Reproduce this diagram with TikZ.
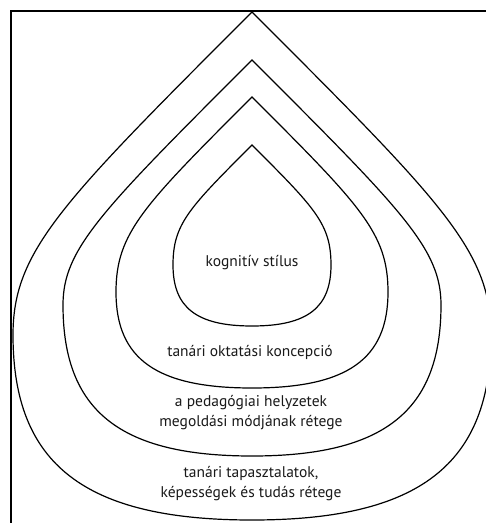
\documentclass[tikz,border=0pt]{standalone}
\usepackage{fontspec}
\setmainfont{PT Sans}
\newcommand\mydrop[4]{% apex y, half width, widest y, bottom y
  \pgfmathsetmacro\ay{#1}\pgfmathsetmacro\w{#2}%
  \pgfmathsetmacro\ly{#3}\pgfmathsetmacro\by{#4}%
  \pgfmathsetmacro\cxa{252-0.8*\w}\pgfmathsetmacro\cya{\ay+0.8*\w}%
  \pgfmathsetmacro\cxb{252-\w}\pgfmathsetmacro\cyb{\ay+\w}%
  \pgfmathsetmacro\cxc{252+0.8*\w}\pgfmathsetmacro\cxd{252+\w}%
  \pgfmathsetmacro\cyc{\ly+0.7*(\by-\ly)}%
  \pgfmathsetmacro\cxe{252-0.7*\w}\pgfmathsetmacro\cxf{252+0.7*\w}%
  \draw[dropline] (252,\ay) .. controls (\cxa,\cya) and (\cxb,\cyb) .. (\cxb,\ly)
    .. controls (\cxb,\cyc) and (\cxe,\by) .. (252,\by)
    .. controls (\cxf,\by) and (\cxd,\cyc) .. (\cxd,\ly)
    .. controls (\cxd,\cyb) and (\cxc,\cya) .. cycle;}
\begin{document}
\begin{tikzpicture}[x=1pt,y=-1pt,
  dropline/.style={line width=1.2pt,black},
  frameline/.style={line width=2pt,black},
  label/.style={font=\fontsize{15.5}{20}\selectfont,text=black!90,align=center,inner sep=0pt}]
\useasboundingbox (0,0) rectangle (486,523);
\clip (0,0) rectangle (486,523);
\draw[frameline] (10.5,530) -- (10.5,10.5) -- (490,10.5);
\mydrop{12}{239}{335}{520}
\mydrop{60}{189}{305}{456}
\mydrop{97}{136}{292}{388}
\mydrop{145}{79}{265}{326}
\node[label] (l1) at (252,263) {kognitív stílus};
\node[label] (l2) at (250,352) {tanári oktatási koncepció};
\node[label] (l3) at (251,413) {a pedagógiai helyzetek\\megoldási módjának rétege};
\node[label] (l4) at (251,484) {tanári tapasztalatok,\\képességek és tudás rétege};
\end{tikzpicture}
\end{document}
